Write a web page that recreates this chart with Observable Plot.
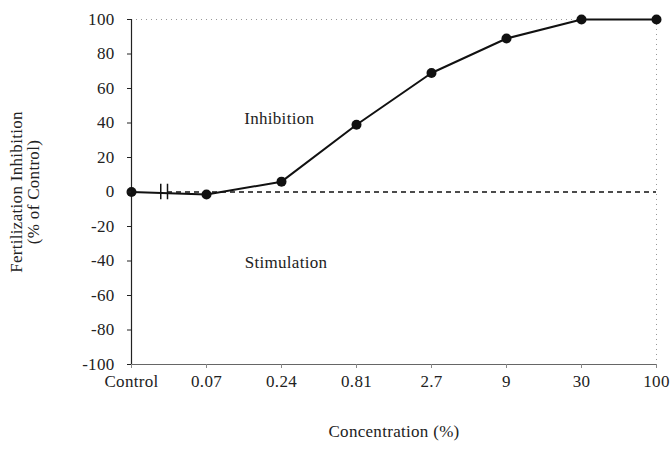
<!DOCTYPE html>
<html><head><meta charset="utf-8">
<script src="https://cdn.jsdelivr.net/npm/d3@7"></script>
<script src="https://cdn.jsdelivr.net/npm/@observablehq/plot@0.6"></script>
<style>
body{margin:0;background:#fff;}
svg{font-family:"Liberation Serif",serif;}
svg text{letter-spacing:0.3px;}
</style></head>
<body><div id="chart"></div>
<script>
const categories = ["Control","0.07","0.24","0.81","2.7","9","30","100"];
const inhibition = [0, -1.5, 6, 39, 69, 89, 100, 100];
const yTicks = [-100,-80,-60,-40,-20,0,20,40,60,80,100];
const breakMarks = [0.39, 0.48];
const annotations = [
  {label:"Inhibition", x:1.97, y:42.5},
  {label:"Stimulation", x:2.06, y:-41}
];
const data = categories.map((c,i)=>({i, c, v: inhibition[i]}));

const chart = Plot.plot({
  width: 670, height: 468,
  marginLeft: 131, marginRight: 14, marginTop: 19, marginBottom: 104,
  style: {fontFamily: "Liberation Serif, serif", fontSize: "17px", color: "#222", background: "#fff"},
  x: {type: "linear", domain: [0, categories.length - 1]},
  y: {domain: [-100, 100]},
  marks: [
    Plot.ruleY([100], {stroke: "#999", strokeDasharray: "1,4"}),
    Plot.ruleX([categories.length - 1], {stroke: "#999", strokeDasharray: "1,4"}),
    Plot.ruleY([-100], {stroke: "#666"}),
    Plot.ruleX([0], {stroke: "#222", strokeWidth: 1.2}),
    Plot.ruleY([0], {x1: breakMarks[1], x2: categories.length - 1, stroke: "#111", strokeWidth: 1.5, strokeDasharray: "5,4"}),
    Plot.line(data, {x: "i", y: "v", stroke: "#111", strokeWidth: 2}),
    Plot.ruleX(breakMarks, {y1: -4.5, y2: 4.5, stroke: "#111", strokeWidth: 1.5}),
    Plot.dot(data, {x: "i", y: "v", r: 5, fill: "#111", stroke: "none"}),
    Plot.text(annotations, {x: "x", y: "y", text: "label", fontSize: 17, fill: "#222"}),
    Plot.axisY({ticks: yTicks, tickSize: 4, tickPadding: 13, tickFormat: d => String(d),
      label: "Fertilization Inhibition\n(% of Control)", labelAnchor: "center", labelArrow: "none", labelOffset: 122}),
    Plot.axisX({ticks: d3.range(categories.length), tickSize: 4, tickPadding: 6, tickFormat: i => categories[i],
      stroke: "#888",
      label: "Concentration (%)", labelAnchor: "center", labelArrow: "none", labelOffset: 72})
  ]
});
document.getElementById("chart").appendChild(chart);
</script></body></html>
